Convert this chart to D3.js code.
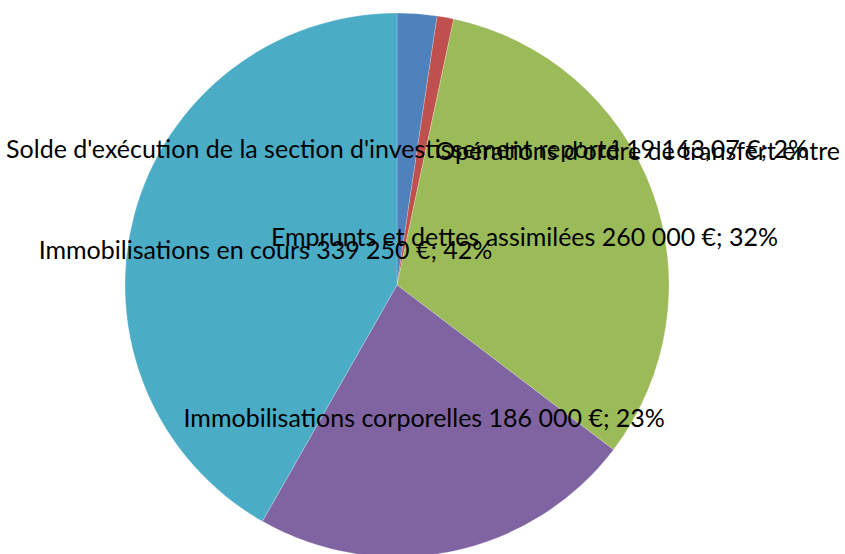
<!DOCTYPE html>
<html>
<head>
<meta charset="utf-8">
<script src="https://cdn.jsdelivr.net/npm/d3@7"></script>
<style>
  html, body { margin: 0; padding: 0; background: #fff; }
  svg { display: block; }
</style>
</head>
<body>
<div id="chart"></div>
<script>
// slices in clockwise order from 12 o'clock
let labels = [
    "Solde d'exécution de la section d'investissement reporté",
    "Opérations d'ordre de transfert entre",
    "Emprunts et dettes assimilées",
    "Immobilisations corporelles",
    "Immobilisations en cours"
];
let values = [19163.07, 8000, 260000, 186000, 339250];
let valueText = ["19 163,07 €", "", "260 000 €", "186 000 €", "339 250 €"];
let percentText = ["2%", "", "32%", "23%", "42%"];
let colors = ["#4F81BD", "#C0504D", "#9BBB59", "#8064A2", "#4BACC6"];

var width = 845, height = 554;
var radius = 272;
var cx = 397, cy = 285;

var svg = d3.select('#chart')
    .append('svg')
    .attr('width', width)
    .attr('height', height);

var data = values.map(function (v, i) {
    return { label: labels[i], value: v, vt: valueText[i], pt: percentText[i], color: colors[i] };
});

var pie = d3.pie()
    .sort(null)
    .value(function (d) { return d.value; });

var arc = d3.arc()
    .innerRadius(0)
    .outerRadius(radius);

var g = svg.append('g')
    .attr('transform', 'translate(' + cx + ',' + cy + ')');

var arcs = pie(data);

g.selectAll('path')
    .data(arcs)
    .enter()
    .append('path')
    .attr('d', arc)
    .attr('fill', function (d) { return d.data.color; })
    .attr('stroke', '#ffffff')
    .attr('stroke-opacity', 0.4)
    .attr('stroke-width', 0.5);

// data labels, centred on the slice centroid like Excel's "best fit"
var txt = g.selectAll('text')
    .data(arcs)
    .enter()
    .append('text')
    .attr('font-family', 'Lato, "Open Sans", sans-serif')
    .attr('font-size', '25px')
    .attr('fill', '#000')
    .attr('text-anchor', 'middle')
    .attr('dy', '0.35em')
    .attr('transform', function (d) {
        var c = arc.centroid(d);
        return 'translate(' + c[0] + ',' + c[1] + ')';
    })
    .text(function (d) {
        if (d.data.vt === "") return d.data.label;
        return d.data.label + ' ' + d.data.vt + '; ' + d.data.pt;
    });

// the thin slice's label is pushed against the right edge of the chart area
txt.filter(function (d) { return d.data.vt === ""; })
    .attr('text-anchor', 'end')
    .attr('transform', function (d) {
        var c = arc.centroid(d);
        return 'translate(' + (width - 5 - cx) + ',' + c[1] + ')';
    });
</script>
</body>
</html>
